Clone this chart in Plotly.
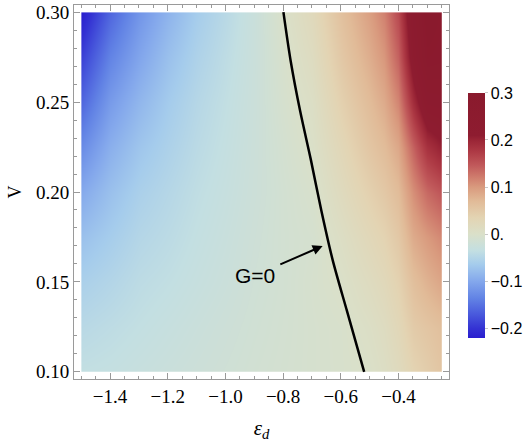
import plotly.graph_objects as go

# ---------------- data ----------------
eps_d = [-1.5, -1.4, -1.3, -1.2, -1.1, -1.0, -0.9, -0.8, -0.7, -0.6,
         -0.5, -0.45, -0.4, -0.35, -0.3, -0.25]
V_vals = [0.100, 0.125, 0.150, 0.175, 0.200, 0.225, 0.250, 0.275, 0.300]

G_V0100 = [-0.035, -0.033, -0.029, -0.025, -0.021, -0.017, -0.013, -0.010,
           -0.007, -0.004, 0.001, 0.008, 0.018, 0.035, 0.045, 0.056]
G_V0125 = [-0.045, -0.040, -0.035, -0.030, -0.025, -0.020, -0.015, -0.011,
           -0.007, -0.0035, 0.006, 0.014, 0.027, 0.048, 0.056, 0.064]
G_V0150 = [-0.058, -0.050, -0.041, -0.036, -0.030, -0.024, -0.017, -0.012,
           -0.006, 0.001, 0.015, 0.024, 0.038, 0.064, 0.078, 0.090]
G_V0175 = [-0.075, -0.062, -0.049, -0.042, -0.034, -0.027, -0.019, -0.012,
           -0.008, 0.008, 0.026, 0.036, 0.052, 0.085, 0.100, 0.113]
G_V0200 = [-0.098, -0.075, -0.058, -0.048, -0.038, -0.030, -0.021, -0.012,
           -0.004, 0.018, 0.040, 0.052, 0.068, 0.108, 0.135, 0.150]
G_V0225 = [-0.128, -0.092, -0.070, -0.056, -0.043, -0.033, -0.022, -0.010,
           0.0016, 0.028, 0.055, 0.068, 0.088, 0.140, 0.185, 0.205]
G_V0250 = [-0.160, -0.112, -0.085, -0.064, -0.048, -0.036, -0.023, -0.007,
           0.0065, 0.040, 0.068, 0.085, 0.115, 0.190, 0.245, 0.250]
G_V0275 = [-0.190, -0.135, -0.102, -0.075, -0.055, -0.040, -0.024, -0.004,
           0.014, 0.052, 0.082, 0.102, 0.140, 0.232, 0.285, 0.280]
G_V0300 = [-0.221, -0.160, -0.118, -0.088, -0.063, -0.045, -0.025, 0.000,
           0.022, 0.062, 0.095, 0.118, 0.160, 0.250, 0.300, 0.285]

# G = 0 contour line
contour_eps = [-0.799, -0.774, -0.741, -0.704, -0.668, -0.628, -0.579, -0.519]
contour_V = [0.300, 0.273, 0.245, 0.218, 0.190, 0.162, 0.134, 0.100]

# annotation "G=0" (text position and arrow tip)
label_text = "G=0"
label_eps, label_V = -0.897, 0.1536
arrow_eps, arrow_V = -0.663, 0.170

# colour bar
g_min, g_max = -0.2205, 0.3
cbar_vals = [-0.2, -0.1, 0.0, 0.1, 0.2, 0.3]
cbar_text = ["\u22120.2", "\u22120.1", "0.", "0.1", "0.2", "0.3"]

x_ticks = [-1.4, -1.2, -1.0, -0.8, -0.6, -0.4]
y_ticks = [0.10, 0.15, 0.20, 0.25, 0.30]

colorscale = [
    [0.000, "#2A1ECF"], [0.039, "#3432D3"], [0.095, "#4858DC"],
    [0.162, "#6283E5"], [0.232, "#84A8EC"], [0.301, "#A5CCEC"],
    [0.356, "#C3DFE2"], [0.424, "#DAE0C9"], [0.491, "#E3D4B3"],
    [0.558, "#E1BB98"], [0.616, "#D99A7E"], [0.654, "#D07E6E"],
    [0.706, "#C0585A"], [0.760, "#AE3A45"], [0.808, "#9A2536"],
    [0.827, "#8E1C30"], [1.000, "#8A1A2D"],
]

G = [G_V0100, G_V0125, G_V0150, G_V0175, G_V0200,
     G_V0225, G_V0250, G_V0275, G_V0300]

# ---------------- layout geometry ----------------
x0, x1 = eps_d[0], eps_d[-1]
y0, y1 = V_vals[0], V_vals[-1]
px_ = 0.02 * (x1 - x0)
py_ = 0.02 * (y1 - y0)
xr = [x0 - px_, x1 + px_]
yr = [y0 - py_, y1 + py_]
xdom = [px_ / (xr[1] - xr[0]), 1 - px_ / (xr[1] - xr[0])]
ydom = [py_ / (yr[1] - yr[0]), 1 - py_ / (yr[1] - yr[0])]

frame = "#9a9a9a"
serif = "Liberation Serif, Times New Roman, Times, serif"
sans = "Liberation Sans, Arial, sans-serif"

fig = go.Figure()
fig.add_trace(go.Heatmap(
    x=eps_d, y=V_vals, z=G, zsmooth="best",
    zmin=g_min, zmax=g_max, colorscale=colorscale,
    xaxis="x", yaxis="y", hoverinfo="skip",
    colorbar=dict(
        thickness=17, len=245, lenmode="pixels",
        x=1.051, xanchor="left", xpad=0,
        y=0.4374, yanchor="middle", ypad=0,
        outlinewidth=0,
        tickmode="array", tickvals=cbar_vals, ticktext=cbar_text,
        ticks="outside", ticklen=3, tickcolor="#c8c8c8",
        tickfont=dict(family=sans, size=16, color="black"),
    ),
))
fig.add_trace(go.Scatter(
    x=contour_eps, y=contour_V, mode="lines",
    line=dict(color="black", width=2.5, shape="spline", smoothing=0.8),
    xaxis="x2", yaxis="y2", hoverinfo="skip", showlegend=False,
))

axis_common = dict(
    showline=True, linecolor=frame, linewidth=1, mirror="ticks",
    ticks="inside", ticklen=6, tickcolor=frame, tickwidth=1,
    showgrid=False, zeroline=False, automargin=False,
    tickfont=dict(family=serif, size=19, color="black"),
)

fig.update_layout(
    width=529, height=445,
    margin=dict(l=74, r=80, t=5, b=66, autoexpand=False),
    paper_bgcolor="white", plot_bgcolor="rgba(0,0,0,0)",
    showlegend=False,
    xaxis=dict(domain=xdom, range=[x0, x1], anchor="y", visible=False),
    yaxis=dict(domain=ydom, range=[y0, y1], anchor="x", visible=False),
    xaxis2=dict(
        domain=[0, 1], range=xr, anchor="y2",
        tickmode="array", tickvals=x_ticks, tickformat=".1f",
        minor=dict(ticks="inside", ticklen=3, tickcolor=frame,
                   dtick=0.05, tick0=0, showgrid=False),
        title=dict(text="<i>\u03b5<sub>d</sub></i>", standoff=14,
                   font=dict(family=serif, size=21, color="black")),
        **axis_common,
    ),
    yaxis2=dict(
        domain=[0, 1], range=yr, anchor="x2",
        tickmode="array", tickvals=y_ticks, tickformat=".2f",
        minor=dict(ticks="inside", ticklen=3, tickcolor=frame,
                   dtick=0.01, tick0=0, showgrid=False),
        title=dict(text="V", standoff=9,
                   font=dict(family=serif, size=18, color="black")),
        **axis_common,
    ),
    annotations=[dict(
        x=arrow_eps, y=arrow_V, xref="x2", yref="y2",
        ax=label_eps, ay=label_V, axref="x2", ayref="y2",
        text=label_text, showarrow=True,
        arrowhead=2, arrowsize=1, arrowwidth=2, arrowcolor="black",
        startstandoff=4,
        font=dict(family=sans, size=21, color="black"),
    )],
)

fig.write_html("out.html",
               config={"displayModeBar": False, "staticPlot": True},
               post_script="document.body.style.margin='0';")
